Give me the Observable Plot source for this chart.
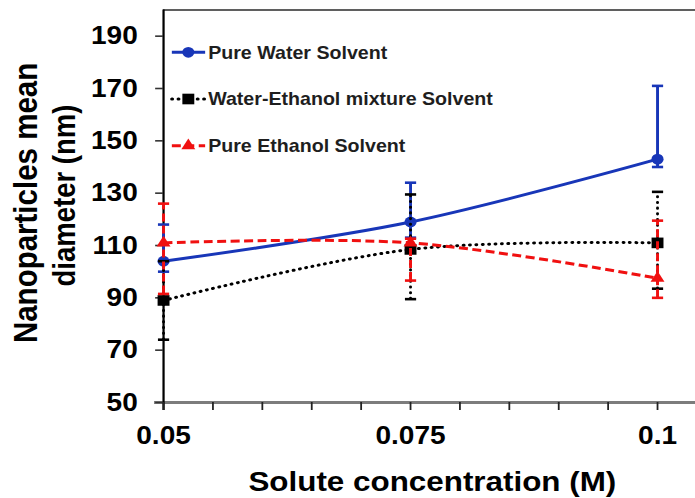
<!DOCTYPE html>
<html>
<head>
<meta charset="utf-8">
<script src="https://cdn.jsdelivr.net/npm/d3@7"></script>
<script src="https://cdn.jsdelivr.net/npm/@observablehq/plot@0.6"></script>
<style>
  html, body { margin: 0; padding: 0; background: #fff; overflow: hidden; }
  #chart { width: 695px; height: 498px; }
</style>
</head>
<body>
<div id="chart"></div>
<script>
// Solute concentrations (M)
const concentrations = [0.05, 0.075, 0.1];

// Axis ticks
const xTickValues = [0.05, 0.075, 0.1];
const xTickLabels = ["0.05", "0.075", "0.1"];
const xMinorTicks = [0.05, 0.055, 0.06, 0.065, 0.07, 0.075, 0.08, 0.085, 0.09, 0.095, 0.1];
const yTickValues = [50, 70, 90, 110, 130, 150, 170, 190];

// Series names
const seriesNames = ["Pure Water Solvent", "Water-Ethanol mixture Solvent", "Pure Ethanol Solvent"];

// Mean diameter (nm) with error-bar ends, per series
const waterMean = [104, 119, 143];
const waterHigh = [118, 134, 171];
const waterLow  = [100, 113, 140];

const mixMean = [89, 108.5, 111];
const mixHigh = [104, 129.5, 130.5];
const mixLow  = [74, 89.5, 93.5];

const ethanolMean = [111, 111, 97.5];
const ethanolHigh = [126, 112.6, 119.5];
const ethanolLow  = [91.5, 96.6, 90];

const xLabel = "Solute concentration (M)";
const yLabelLines = ["Nanoparticles mean", "diameter (nm)"];

// Drawing styles for each series
const styles = [
  {color: "#1836b8", dash: null, cap: "butt", symbol: "circle", r: 5.4},
  {color: "#000000", dash: "0.5 5.2", cap: "round", symbol: "square", r: 6},
  {color: "#f01010", dash: "8 4", cap: "butt", symbol: "triangle", r: 4.6}
];

const means = [waterMean, mixMean, ethanolMean];
const highs = [waterHigh, mixHigh, ethanolHigh];
const lows = [waterLow, mixLow, ethanolLow];

const series = seriesNames.map((name, s) => ({
  name,
  style: styles[s],
  rows: concentrations.map((c, i) => ({c, mean: means[s][i], hi: highs[s][i], lo: lows[s][i]}))
}));

// Horizontal bar used for error-bar caps
const capSymbol = {
  draw(ctx, size) {
    const w = Math.sqrt(size / Math.PI);
    ctx.moveTo(-w, 0);
    ctx.lineTo(w, 0);
  }
};

// The drawing is laid out on a narrower canvas and widened to the page width.
const W = 620, H = 498, outW = 695;
const font = "'Liberation Sans', Arial, Helvetica, sans-serif";

const dataMarks = series.flatMap(({style, rows}) => [
  Plot.ruleX(rows, {x: "c", y1: "lo", y2: "hi", stroke: style.color, strokeWidth: 2.6,
    strokeDasharray: style.dash, strokeLinecap: style.cap}),
  Plot.dot(rows, {x: "c", y: "hi", symbol: capSymbol, r: 5, stroke: style.color, strokeWidth: 2.6, fill: "none"}),
  Plot.dot(rows, {x: "c", y: "lo", symbol: capSymbol, r: 5, stroke: style.color, strokeWidth: 2.6, fill: "none"}),
  Plot.line(rows, {x: "c", y: "mean", curve: "catmull-rom", stroke: style.color, strokeWidth: 3,
    strokeDasharray: style.dash, strokeLinecap: style.cap}),
  Plot.dot(rows, {x: "c", y: "mean", symbol: style.symbol, r: style.r, fill: style.color, stroke: "none"})
]);

const chart = Plot.plot({
  width: W,
  height: H,
  marginLeft: 145.4,
  marginRight: 0,
  marginTop: 9.5,
  marginBottom: 96,
  style: {fontFamily: font, fontWeight: "bold", color: "#000", background: "#fff", overflow: "visible"},
  x: {type: "linear", domain: [0.05, 0.10385]},
  y: {type: "linear", domain: [50, 200]},
  marks: [
    Plot.ruleY([200], {stroke: "#2a2a2a", strokeWidth: 1.6}),
    Plot.ruleY([50], {stroke: "#7c7c7c", strokeWidth: 2.8, insetLeft: -8}),
    Plot.ruleX([0.05], {stroke: "#000", strokeWidth: 2, insetBottom: -8}),
    Plot.axisY({ticks: yTickValues, tickSize: 7, tickPadding: 16, fontSize: 25, fontWeight: "bold",
      stroke: "#333", strokeWidth: 1.6, fill: "#000", label: null}),
    Plot.axisX({ticks: xMinorTicks, tickSize: 8, stroke: "#222", strokeWidth: 1.6,
      tickFormat: () => "", label: null}),
    Plot.axisX({ticks: xTickValues, tickSize: 0, tickPadding: 24, fontSize: 25, fontWeight: "bold",
      fill: "#000", tickFormat: d => xTickLabels[xTickValues.indexOf(d)], label: null}),
    ...dataMarks,
    Plot.text([xLabel], {text: d => d, frameAnchor: "bottom", lineAnchor: "middle", textAnchor: "middle",
      dy: 79.7, dx: 2.5, fontSize: 28, fontWeight: "bold", fill: "#000"}),
    Plot.text([yLabelLines[0]], {text: d => d, frameAnchor: "left", lineAnchor: "middle", textAnchor: "middle",
      rotate: -90, dx: -122, dy: -3.3, fontSize: 29.5, fontWeight: "bold", fill: "#000"}),
    Plot.text([yLabelLines[1]], {text: d => d, frameAnchor: "left", lineAnchor: "middle", textAnchor: "middle",
      rotate: -90, dx: -87.5, dy: -10.7, fontSize: 27.5, fontWeight: "bold", fill: "#000"})
  ]
});

// Legend inside the plot area
const svg = d3.select(chart);
const legend = svg.append("g").attr("font-family", font).attr("font-weight", "bold");
const legendRowY = [52.3, 99, 145.7];
series.forEach(({name, style}, s) => {
  const g = legend.append("g").attr("transform", `translate(0,${legendRowY[s]})`);
  g.append("line")
    .attr("x1", 153.3).attr("x2", 183)
    .attr("stroke", style.color).attr("stroke-width", 3)
    .attr("stroke-dasharray", style.dash).attr("stroke-linecap", style.cap);
  g.append("path")
    .attr("transform", "translate(168,0)")
    .attr("d", d3.symbol(
      style.symbol === "circle" ? d3.symbolCircle : style.symbol === "square" ? d3.symbolSquare : d3.symbolTriangle,
      Math.PI * style.r * style.r)())
    .attr("fill", style.color);
  g.append("text")
    .attr("x", 185.7).attr("dy", "0.36em")
    .attr("text-anchor", "start")
    .attr("font-size", 17.5).attr("fill", "#1e1e1e")
    .text(name);
});

chart.setAttribute("viewBox", `0 0 ${W} ${H}`);
chart.setAttribute("preserveAspectRatio", "none");
chart.setAttribute("width", outW);
chart.setAttribute("height", H);
chart.style.width = outW + "px";
chart.style.height = H + "px";
chart.style.maxWidth = "none";
document.getElementById("chart").appendChild(chart);
</script>
</body>
</html>
